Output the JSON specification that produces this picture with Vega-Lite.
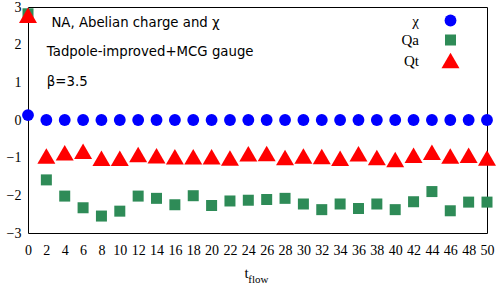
{
  "$schema": "https://vega.github.io/schema/vega-lite/v6.json",
  "width": 459,
  "height": 226,
  "autosize": {"type": "none"},
  "padding": {"left": 28, "top": 7, "right": 11, "bottom": 52},
  "background": "white",
  "config": {
    "view": {"stroke": "black", "strokeWidth": 1},
    "axis": {
      "domain": false,
      "ticks": false,
      "tickSize": 0,
      "grid": false,
      "labelFont": "Liberation Serif",
      "labelFontSize": 14,
      "labelColor": "black",
      "labelOverlap": false,
      "labelFlush": false,
      "titleFont": "Liberation Serif",
      "titleFontSize": 15,
      "titleFontWeight": "normal",
      "titleColor": "black"
    },
    "axisX": {
      "tickCount": 25,
      "labelPadding": 10,
      "titleX": 218,
      "titleY": 44,
      "titleBaseline": "alphabetic",
      "titleAlign": "center"
    },
    "axisY": {
      "tickCount": 6,
      "labelPadding": 7
    }
  },
  "data": {
    "values": [
      {"series": "χ", "t": 0, "value": 0.13},
      {"series": "χ", "t": 2, "value": 0.0},
      {"series": "χ", "t": 4, "value": 0.0},
      {"series": "χ", "t": 6, "value": 0.0},
      {"series": "χ", "t": 8, "value": 0.0},
      {"series": "χ", "t": 10, "value": 0.0},
      {"series": "χ", "t": 12, "value": 0.0},
      {"series": "χ", "t": 14, "value": 0.0},
      {"series": "χ", "t": 16, "value": 0.0},
      {"series": "χ", "t": 18, "value": 0.0},
      {"series": "χ", "t": 20, "value": 0.0},
      {"series": "χ", "t": 22, "value": 0.0},
      {"series": "χ", "t": 24, "value": 0.0},
      {"series": "χ", "t": 26, "value": 0.0},
      {"series": "χ", "t": 28, "value": 0.0},
      {"series": "χ", "t": 30, "value": 0.0},
      {"series": "χ", "t": 32, "value": 0.0},
      {"series": "χ", "t": 34, "value": 0.0},
      {"series": "χ", "t": 36, "value": 0.0},
      {"series": "χ", "t": 38, "value": 0.0},
      {"series": "χ", "t": 40, "value": 0.0},
      {"series": "χ", "t": 42, "value": 0.0},
      {"series": "χ", "t": 44, "value": 0.0},
      {"series": "χ", "t": 46, "value": 0.0},
      {"series": "χ", "t": 48, "value": 0.0},
      {"series": "χ", "t": 50, "value": 0.0},
      {"series": "Qa", "t": 0, "value": 2.82},
      {"series": "Qa", "t": 2, "value": -1.59},
      {"series": "Qa", "t": 4, "value": -2.02},
      {"series": "Qa", "t": 6, "value": -2.33},
      {"series": "Qa", "t": 8, "value": -2.55},
      {"series": "Qa", "t": 10, "value": -2.42},
      {"series": "Qa", "t": 12, "value": -2.02},
      {"series": "Qa", "t": 14, "value": -2.08},
      {"series": "Qa", "t": 16, "value": -2.25},
      {"series": "Qa", "t": 18, "value": -2.01},
      {"series": "Qa", "t": 20, "value": -2.27},
      {"series": "Qa", "t": 22, "value": -2.15},
      {"series": "Qa", "t": 24, "value": -2.13},
      {"series": "Qa", "t": 26, "value": -2.11},
      {"series": "Qa", "t": 28, "value": -2.08},
      {"series": "Qa", "t": 30, "value": -2.23},
      {"series": "Qa", "t": 32, "value": -2.38},
      {"series": "Qa", "t": 34, "value": -2.23},
      {"series": "Qa", "t": 36, "value": -2.35},
      {"series": "Qa", "t": 38, "value": -2.23},
      {"series": "Qa", "t": 40, "value": -2.38},
      {"series": "Qa", "t": 42, "value": -2.17},
      {"series": "Qa", "t": 44, "value": -1.9},
      {"series": "Qa", "t": 46, "value": -2.41},
      {"series": "Qa", "t": 48, "value": -2.18},
      {"series": "Qa", "t": 50, "value": -2.18},
      {"series": "Qt", "t": 0, "value": 2.78},
      {"series": "Qt", "t": 2, "value": -0.96},
      {"series": "Qt", "t": 4, "value": -0.87},
      {"series": "Qt", "t": 6, "value": -0.83},
      {"series": "Qt", "t": 8, "value": -1.02},
      {"series": "Qt", "t": 10, "value": -1.02},
      {"series": "Qt", "t": 12, "value": -0.92},
      {"series": "Qt", "t": 14, "value": -0.95},
      {"series": "Qt", "t": 16, "value": -0.98},
      {"series": "Qt", "t": 18, "value": -0.98},
      {"series": "Qt", "t": 20, "value": -0.98},
      {"series": "Qt", "t": 22, "value": -1.01},
      {"series": "Qt", "t": 24, "value": -0.9},
      {"series": "Qt", "t": 26, "value": -0.89},
      {"series": "Qt", "t": 28, "value": -1.0},
      {"series": "Qt", "t": 30, "value": -0.96},
      {"series": "Qt", "t": 32, "value": -0.97},
      {"series": "Qt", "t": 34, "value": -1.02},
      {"series": "Qt", "t": 36, "value": -0.9},
      {"series": "Qt", "t": 38, "value": -1.0},
      {"series": "Qt", "t": 40, "value": -1.05},
      {"series": "Qt", "t": 42, "value": -0.94},
      {"series": "Qt", "t": 44, "value": -0.86},
      {"series": "Qt", "t": 46, "value": -0.96},
      {"series": "Qt", "t": 48, "value": -0.94},
      {"series": "Qt", "t": 50, "value": -1.01}
    ]
  },
  "layer": [
    {
      "mark": {"type": "point", "filled": true, "opacity": 1, "strokeWidth": 0, "size": 140},
      "encoding": {
        "x": {
          "field": "t", "type": "quantitative",
          "scale": {"domain": [0, 50], "nice": false, "zero": false},
          "axis": {"title": "t"}
        },
        "y": {
          "field": "value", "type": "quantitative",
          "scale": {"domain": [-3, 3], "nice": false, "zero": false},
          "axis": {"title": null}
        },
        "color": {
          "field": "series", "type": "nominal",
          "scale": {"domain": ["χ", "Qa", "Qt"], "range": ["#0000ff", "#2e8b57", "#ff0000"]},
          "legend": {
            "orient": "none",
            "legendX": 415,
            "legendY": 6,
            "title": null,
            "padding": 0,
            "labelFont": "Liberation Serif",
            "labelFontSize": 15,
            "labelColor": "black",
            "labelAlign": "right",
            "labelOffset": -39,
            "rowPadding": 3.5,
            "symbolSize": 140,
            "symbolStrokeWidth": 0,
            "symbolOpacity": 1
          }
        },
        "shape": {
          "field": "series", "type": "nominal",
          "scale": {"domain": ["χ", "Qa", "Qt"], "range": ["circle", "M-0.93,-0.93L0.93,-0.93L0.93,0.93L-0.93,0.93Z", "M0,-1.33L1.52,1.3L-1.52,1.3Z"]}
        }
      }
    },
    {
      "data": {"values": [{"label": "NA, Abelian charge and χ"}]},
      "mark": {"type": "text", "font": "DejaVu Sans", "fontSize": 13.3, "align": "left", "baseline": "middle", "color": "black"},
      "encoding": {
        "x": {"datum": 2.55, "type": "quantitative"},
        "y": {"datum": 2.58, "type": "quantitative"},
        "text": {"field": "label"}
      }
    },
    {
      "data": {"values": [{"label": "Tadpole-improved+MCG gauge"}]},
      "mark": {"type": "text", "font": "DejaVu Sans", "fontSize": 13.3, "align": "left", "baseline": "middle", "color": "black"},
      "encoding": {
        "x": {"datum": 2.05, "type": "quantitative"},
        "y": {"datum": 1.81, "type": "quantitative"},
        "text": {"field": "label"}
      }
    },
    {
      "data": {"values": [{"label": "β=3.5"}]},
      "mark": {"type": "text", "font": "DejaVu Sans", "fontSize": 13.3, "align": "left", "baseline": "middle", "color": "black"},
      "encoding": {
        "x": {"datum": 2.05, "type": "quantitative"},
        "y": {"datum": 1.02, "type": "quantitative"},
        "text": {"field": "label"}
      }
    },
    {
      "data": {"values": [{"label": "flow"}]},
      "mark": {"type": "text", "font": "Liberation Serif", "fontSize": 11, "align": "left", "baseline": "alphabetic", "color": "black"},
      "encoding": {
        "x": {"datum": 24.0, "type": "quantitative"},
        "y": {"datum": -4.32, "type": "quantitative"},
        "text": {"field": "label"}
      }
    }
  ]
}
